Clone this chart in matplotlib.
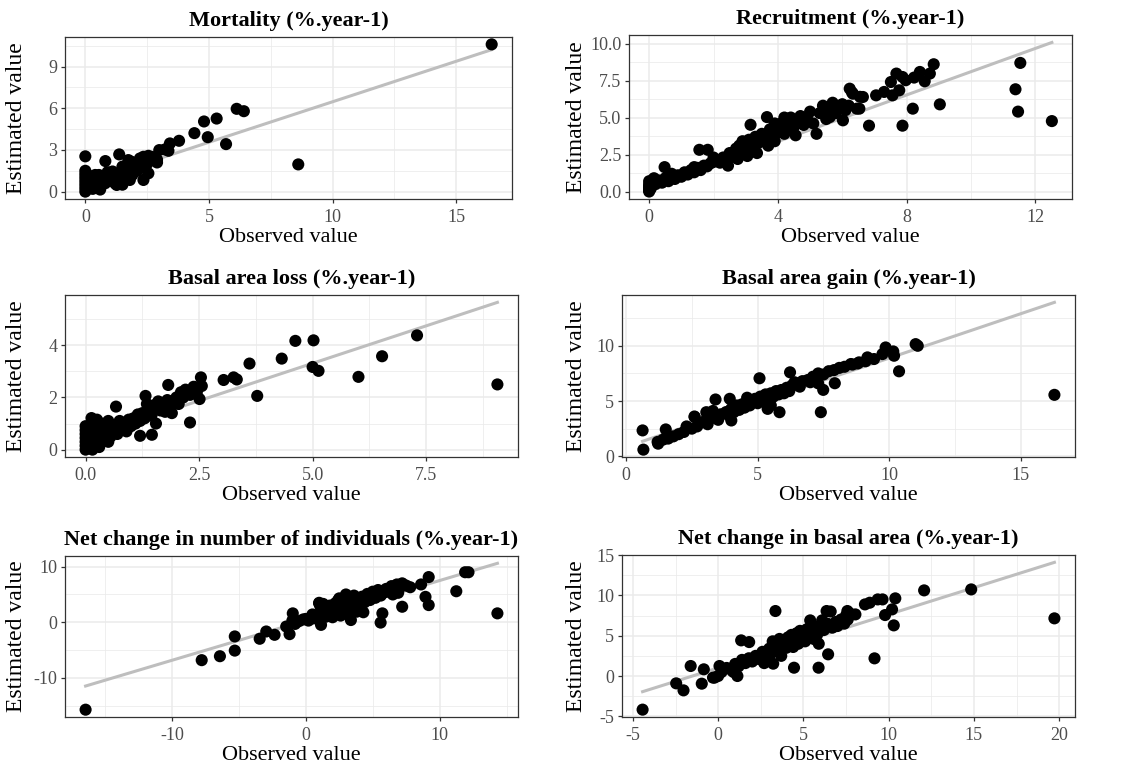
import matplotlib
matplotlib.use("Agg")
import matplotlib.pyplot as plt
from matplotlib.ticker import MultipleLocator, AutoMinorLocator, FormatStrFormatter

plt.rcParams['font.family'] = ['Liberation Serif', 'DejaVu Serif']

# ---- data (observed, estimated) ----
mort_obs = [16.43, 8.61, 6.12, 6.41, 4.80, 5.31, 4.41, 4.95, 5.69, 3.79, 3.42, 2.99, 3.22, 3.36, 2.90,
            2.55, 2.35, 2.21, 2.55, 2.35, 1.87, 1.74, 1.37, 0.81, 0.00, 1.80, 1.40, 1.27,
            2.6, 2.7, 2.5, 2.2, 2.0, 1.9, 1.7, 1.6, 1.5, 1.2, 1.1, 1.0, 0.9, 0.8, 0.7, 0.6, 0.55,
            0.5, 0.45, 0.4, 0.35, 0.3, 0.25, 0.2, 0.15, 0.1, 0.1, 0.05, 0.0, 0.0, 0.0, 0.0, 0.0,
            0.0, 0.0, 0.6, 0.3, 0.8, 1.2, 1.5, 1.9, 2.4, 2.9, 2.1, 1.3]
mort_est = [10.6, 1.96, 5.96, 5.79, 5.05, 5.26, 4.21, 3.92, 3.42, 3.66, 3.47, 2.99, 3.04, 2.94, 2.10,
            2.58, 2.51, 2.39, 1.32, 0.84, 2.15, 2.27, 2.68, 2.20, 2.54, 0.84, 0.72, 0.48,
            2.3, 2.5, 2.0, 1.9, 2.0, 1.7, 1.5, 1.3, 1.8, 1.2, 1.45, 1.0, 1.4, 1.15, 0.9, 0.7, 1.2,
            0.3, 0.9, 1.2, 0.5, 0.8, 1.1, 0.4, 0.7, 1.0, 0.2, 0.5, 0.0, 0.25, 0.5, 0.75, 1.0,
            1.25, 1.5, 0.15, 0.2, 0.6, 0.6, 0.5, 1.2, 1.7, 2.3, 1.5, 0.9]

recr_obs = [12.51, 11.53, 11.38, 11.46, 9.03, 8.19, 7.87, 6.83, 8.84, 8.72, 8.56, 8.41, 8.23, 7.97,
            7.68, 7.87, 7.77, 7.51, 7.56, 7.30, 7.05, 6.23, 6.33, 6.64, 6.53, 6.02, 5.20, 5.61,
            3.66, 3.15, 3.15, 1.56, 1.82, 0.48, 0.0, 0.0, 0.0,
            0.0, 0.0, 0.0, 0.0, 0.05, 0.1, 0.15, 0.2, 0.3, 0.4, 0.5, 0.6, 0.7, 0.8, 0.9, 1.0, 1.1,
            1.2, 1.3, 1.4, 1.5, 1.6, 1.7, 1.8, 1.9, 2.0, 2.1, 2.2, 2.3, 2.4, 2.45, 2.5, 2.6, 2.7,
            2.75, 2.8, 2.9, 3.0, 3.05, 3.1, 3.2, 3.3, 3.35, 3.4, 3.5, 3.55, 3.7, 3.75, 3.8, 3.9,
            4.0, 4.1, 4.2, 4.3, 4.35, 4.4, 4.5, 4.55, 4.6, 4.7, 4.8, 4.9, 5.0, 5.1, 5.3, 5.4, 5.5,
            5.6, 5.7, 5.8, 5.9, 6.0, 6.1, 6.2, 6.3, 6.45, 6.55, 4.2, 3.9, 2.9, 2.0, 1.4, 0.7]
recr_est = [4.76, 8.69, 6.91, 5.40, 5.89, 5.60, 4.45, 4.45, 8.60, 7.97, 7.45, 8.08, 7.70, 7.52,
            7.97, 7.74, 6.84, 7.40, 6.50, 6.73, 6.50, 6.95, 6.61, 6.39, 5.60, 4.81, 3.90, 5.03,
            5.03, 4.51, 3.12, 2.82, 2.82, 1.65, 0.0, 0.15, 0.35,
            0.1, 0.3, 0.5, 0.7, 0.2, 0.6, 0.9, 0.5, 0.75, 0.6, 0.9, 0.7, 1.0, 0.85, 1.1, 1.0, 1.3,
            1.15, 1.45, 1.3, 1.6, 1.45, 1.75, 1.7, 1.9, 2.0, 2.1, 1.95, 2.3, 2.2, 1.75, 2.6, 2.4, 2.9,
            2.2, 3.1, 2.7, 3.2, 2.4, 3.5, 3.0, 3.7, 2.6, 3.3, 3.9, 3.5, 3.1, 4.2, 3.7, 3.4,
            4.0, 4.6, 3.9, 4.8, 4.2, 5.0, 4.4, 3.8, 4.7, 5.1, 4.5, 5.0, 5.4, 4.6, 5.3, 5.8, 4.9,
            5.5, 6.0, 5.3, 5.7, 5.9, 5.5, 5.8, 6.7, 5.6, 6.4, 5.0, 4.6, 3.4, 2.3, 1.65, 1.2]

bal_obs = [9.07, 7.30, 6.53, 6.01, 5.13, 5.00, 5.02, 4.62, 4.32, 3.61, 3.78, 3.33, 3.26, 3.04,
           2.30, 2.54, 2.56, 2.51, 2.38, 1.82, 1.32, 1.46, 1.20, 0.67, 0.13,
           0.0, 0.0, 0.0, 0.0, 0.0, 0.0, 0.0, 0.03, 0.05, 0.07, 0.1, 0.1, 0.12, 0.15, 0.17, 0.2,
           0.22, 0.25, 0.28, 0.3, 0.35, 0.38, 0.4, 0.45, 0.5, 0.55, 0.6, 0.65, 0.7, 0.75, 0.8,
           0.85, 0.9, 0.95, 1.0, 1.05, 1.1, 1.15, 1.2, 1.25, 1.3, 1.35, 1.4, 1.45, 1.5, 1.55, 1.6,
           1.65, 1.7, 1.75, 1.8, 1.85, 1.9, 1.95, 2.0, 2.05, 2.1, 2.15, 2.2, 2.3, 2.4, 2.45,
           0.15, 0.3, 0.5, 0.25]
bal_est = [2.50, 4.38, 3.58, 2.79, 3.02, 3.17, 4.19, 4.17, 3.49, 3.30, 2.06, 2.69, 2.77, 2.67,
           1.04, 2.77, 2.44, 1.94, 2.41, 2.48, 2.06, 0.57, 0.53, 1.65, 1.21,
           0.0, 0.15, 0.3, 0.45, 0.6, 0.75, 0.9, 0.2, 0.5, 0.8, 0.1, 0.4, 0.65, 0.95, 0.3, 0.55,
           0.8, 0.2, 0.45, 0.7, 1.0, 0.4, 0.6, 0.85, 1.1, 0.5, 0.75, 0.95, 0.6, 1.1, 0.85,
           1.0, 0.7, 1.15, 0.9, 1.2, 1.0, 1.35, 1.1, 1.4, 1.2, 1.75, 1.5, 1.3, 1.7, 1.0, 1.85,
           1.5, 1.7, 1.45, 1.9, 1.6, 1.4, 1.8, 2.0, 1.75, 2.2, 2.0, 2.3, 2.1, 2.4, 2.2,
           0.0, 0.1, 0.3, 1.15]

bag_obs = [16.27, 11.00, 11.08, 10.37, 10.15, 10.18, 9.86, 9.74, 9.42, 9.17, 8.85, 8.54, 7.93, 7.49,
           7.40, 5.83, 5.38, 5.07, 6.23, 4.00, 3.40, 3.94, 2.61, 3.05, 0.63, 1.51, 0.66, 1.22,
           1.2, 1.4, 1.6, 1.8, 2.0, 2.2, 2.3, 2.5, 2.7, 2.8, 3.0, 3.1, 3.2, 3.4, 3.5, 3.6, 3.8,
           3.9, 4.0, 4.1, 4.2, 4.3, 4.4, 4.5, 4.6, 4.7, 4.8, 4.9, 5.0, 5.1, 5.2, 5.3, 5.4, 5.5,
           5.6, 5.7, 5.8, 5.9, 6.0, 6.1, 6.2, 6.3, 6.5, 6.6, 6.7, 6.9, 7.0, 7.1, 7.2, 7.3, 7.5,
           7.7, 7.9, 8.1, 8.3, 8.6, 8.8, 9.1, 4.6, 2.6, 3.3, 6.4, 7.3, 5.5]
bag_est = [5.56, 10.15, 10.00, 7.69, 9.49, 9.10, 9.85, 9.25, 8.80, 8.95, 8.50, 8.35, 6.61, 6.01,
           3.99, 3.99, 4.29, 7.06, 7.60, 3.24, 5.14, 5.20, 3.54, 3.99, 2.34, 2.43, 0.60, 1.14,
           1.3, 1.5, 1.6, 1.8, 2.0, 2.2, 2.7, 2.5, 2.7, 3.0, 3.2, 2.9, 3.4, 3.6, 3.3, 3.8, 4.0,
           3.7, 4.3, 4.0, 4.6, 4.2, 4.7, 4.4, 5.0, 4.6, 4.9, 5.2, 4.8, 5.4, 5.0, 5.6, 5.3, 5.7,
           5.4, 5.9, 5.6, 6.0, 5.7, 6.2, 5.9, 6.4, 6.5, 6.3, 6.8, 6.9, 6.7, 7.2, 7.0, 7.5, 7.4,
           7.7, 7.8, 8.0, 8.1, 8.3, 8.4, 8.6, 5.3, 3.6, 4.1, 6.7, 6.6, 4.6]

nci_obs = [-16.44, 14.31, 11.24, 9.18, 8.94, 9.18, 7.20, 5.72, 5.59, 11.90, 12.15, 8.61, 3.37,
           -5.30, -5.30, -6.41, -7.77, -3.44, -2.95, -2.33, -1.46, -1.21, -0.97, 1.00, 1.14,
           -0.5, -0.2, 0.0, 0.2, 0.4, 0.6, 0.8, 1.0, 1.1, 1.2, 1.3, 1.4, 1.5, 1.6, 1.7, 1.8, 1.9,
           2.0, 2.1, 2.2, 2.3, 2.4, 2.5, 2.6, 2.7, 2.8, 2.9, 3.0, 3.1, 3.2, 3.3, 3.4, 3.5, 3.6,
           3.7, 3.8, 3.9, 4.0, 4.2, 4.4, 4.6, 4.8, 5.0, 5.2, 5.4, 5.6, 5.8, 6.0, 6.2, 6.4, 6.6,
           6.8, 7.0, 7.2, 7.5, 7.8, 6.5, 6.9, 4.3, 2.0, 0.5, -0.8, -1.0, 1.0, 2.5, 3.0]
nci_est = [-15.73, 1.60, 5.58, 8.13, 4.57, 3.09, 2.79, 1.60, -0.06, 9.00, 9.00, 6.80, 0.40,
           -2.55, -5.10, -6.11, -6.82, -2.97, -1.66, -2.26, -0.77, -2.14, 1.60, 3.40, -0.47,
           0.2, 0.5, 0.6, 0.3, 0.9, 0.7, 1.2, 0.5, 2.8, 1.5, 3.3, 2.0, 1.0, 2.5, 1.6, 3.0, 2.1,
           1.3, 2.7, 3.4, 1.8, 3.9, 2.5, 1.2, 3.1, 4.2, 2.2, 3.6, 1.5, 4.5, 2.9, 3.9, 2.3, 4.8,
           3.3, 1.9, 4.2, 3.0, 4.6, 3.6, 5.1, 4.0, 5.5, 4.4, 5.8, 4.8, 5.3, 6.0, 5.5, 6.5, 5.8,
           6.8, 6.2, 7.0, 6.6, 6.3, 5.0, 5.3, 1.8, 0.9, 1.4, -0.3, 0.3, 3.5, 4.3, 5.0]

ncb_obs = [-4.43, 19.72, 14.84, 12.08, 10.39, 10.30, 9.79, 10.20, 9.17, 9.64, 9.36, 8.89, 8.61,
           8.05, 7.58, 6.45, 5.89, 4.45, 6.36, 3.36, 1.35, 1.82, 3.23, 1.13, -1.61, -2.46, -2.03,
           -0.96, -0.84, -0.21, 0.08,
           0.2, 0.5, 0.8, 1.0, 1.2, 1.4, 1.6, 1.8, 2.0, 2.2, 2.4, 2.6, 2.7, 2.8, 3.0, 3.1, 3.2,
           3.3, 3.4, 3.5, 3.6, 3.7, 3.8, 3.9, 4.0, 4.1, 4.2, 4.3, 4.4, 4.5, 4.6, 4.7, 4.8, 4.9,
           5.0, 5.1, 5.2, 5.3, 5.4, 5.5, 5.6, 5.7, 5.8, 5.9, 6.0, 6.1, 6.2, 6.4, 6.6, 6.7, 6.9,
           7.0, 7.2, 7.4, 7.5, 7.7, 7.6, 0.0, -0.3, 0.9]
ncb_est = [-4.17, 7.15, 10.74, 10.62, 9.63, 6.28, 7.56, 8.26, 2.19, 9.50, 9.50, 9.09, 8.88,
           7.64, 8.06, 2.69, 1.03, 1.03, 8.06, 8.06, 4.42, 4.21, 1.53, 0.00, 1.24, -0.91, -1.78,
           -0.95, 0.83, -0.20, 1.24,
           0.5, 1.0, 0.7, 1.5, 1.2, 2.0, 1.6, 2.2, 1.8, 2.5, 2.1, 3.0, 1.6, 2.5, 3.4, 2.8, 4.3,
           3.6, 4.0, 3.2, 4.6, 2.5, 3.9, 4.3, 3.5, 4.8, 4.1, 5.1, 3.6, 4.5, 5.3, 4.0, 5.6, 4.8,
           5.2, 4.3, 5.8, 5.0, 6.9, 5.4, 4.6, 6.0, 5.1, 4.0, 6.3, 6.9, 5.7, 6.5, 8.0, 6.0, 6.7,
           6.2, 7.0, 6.5, 7.5, 7.8, 7.0, 0.0, -0.2, 0.5]

# linear fit (intercept, slope)
fit_intercept = [0.64, 0.24, 0.44, 0.85, 0.33, 1.0]
fit_slope = [0.583, 0.786, 0.574, 0.804, 0.718, 0.664]

titles = ["Mortality (%.year-1)", "Recruitment (%.year-1)", "Basal area loss (%.year-1)",
          "Basal area gain (%.year-1)", "Net change in number of individuals (%.year-1)",
          "Net change in basal area (%.year-1)"]
obs_all = [mort_obs, recr_obs, bal_obs, bag_obs, nci_obs, ncb_obs]
est_all = [mort_est, recr_est, bal_est, bag_est, nci_est, ncb_est]

x_steps = [5, 4, 2.5, 5, 10, 5]
y_steps = [3, 2.5, 2, 5, 10, 5]
x_fmt = ["%g", "%g", "%.1f", "%g", "%g", "%g"]
y_fmt = ["%g", "%.1f", "%g", "%g", "%g", "%g"]

# axes rectangles in pixels: left, top, right, bottom
W, H = 1121, 771
boxes = [(65, 37, 512, 199), (629, 35, 1072, 199),
         (65, 295, 518, 457), (622, 295, 1075, 457),
         (65, 556, 518, 717), (622, 555, 1075, 717)]
ylabel_x = [27, 587, 27, 587, 27, 587]

fig = plt.figure(figsize=(W / 100, H / 100), dpi=100)

for i in range(6):
    l, t, r, b = boxes[i]
    ax = fig.add_axes([l / W, 1 - b / H, (r - l) / W, (b - t) / H])
    obs = obs_all[i]
    est = est_all[i]

    xmin, xmax = min(obs), max(obs)
    ax.plot([xmin, xmax],
            [fit_intercept[i] + fit_slope[i] * xmin, fit_intercept[i] + fit_slope[i] * xmax],
            color="#BEBEBE", lw=2.2, zorder=2)
    ax.scatter(obs, est, s=76, color="black", edgecolors="none", zorder=3)

    ax.xaxis.set_major_locator(MultipleLocator(x_steps[i]))
    ax.yaxis.set_major_locator(MultipleLocator(y_steps[i]))
    ax.xaxis.set_minor_locator(AutoMinorLocator(2))
    ax.yaxis.set_minor_locator(AutoMinorLocator(2))
    ax.xaxis.set_major_formatter(FormatStrFormatter(x_fmt[i]))
    ax.yaxis.set_major_formatter(FormatStrFormatter(y_fmt[i]))

    ax.grid(which="major", color="#EBEBEB", lw=1.1, zorder=0)
    ax.grid(which="minor", color="#EBEBEB", lw=0.55, zorder=0)
    ax.set_axisbelow(True)
    for sp in ax.spines.values():
        sp.set_color("#333333")
        sp.set_linewidth(0.9)
    ax.tick_params(which="major", length=3, width=0.9, color="#333333",
                   labelsize=13, labelcolor="#4D4D4D")
    ax.tick_params(axis="x", which="major", pad=4.5)
    ax.tick_params(axis="y", which="major", pad=2.5)
    ax.tick_params(which="minor", length=0)

    ax.set_title(titles[i], fontsize=16, fontweight="bold", pad=8)
    ax.set_xlabel("Observed value", fontsize=16, labelpad=1)
    ax.set_ylabel("Estimated value", fontsize=17)
    ax.yaxis.set_label_coords((ylabel_x[i] - l) / (r - l), 0.5)

fig.savefig("out.png", dpi=100)
